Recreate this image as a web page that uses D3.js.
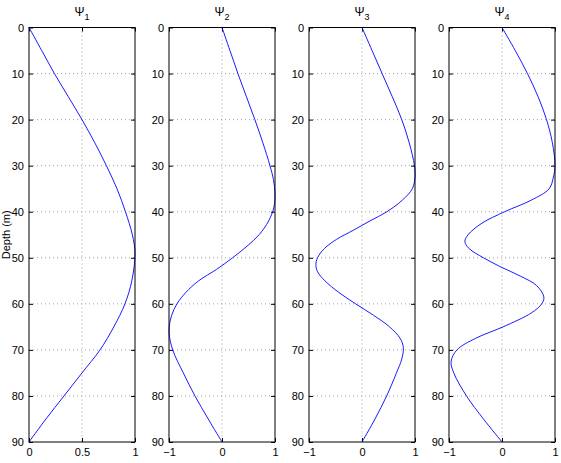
<!DOCTYPE html>
<html lang="en">
<head>
    <meta charset="UTF-8">
    <title>Modes</title>
    <style>
        body { margin: 0; background: #fff; }
        text { font-family: "Liberation Sans", Arial, sans-serif; }
    </style>
</head>
<body>
    <div id="chart"></div>

    <script src="https://cdn.jsdelivr.net/npm/d3@7"></script>

    <script>
        // values
        const titles = ["1", "2", "3", "4"];
        const depthTicks = [0, 10, 20, 30, 40, 50, 60, 70, 80, 90];
        const xTicks1 = [0, 0.5, 1];
        const xTicksOther = [-1, 0, 1];

        const depth1 = [0, 5, 10, 15, 20, 25, 30, 35, 40, 45, 49, 55, 60, 65, 70, 75, 80, 85, 90];
        const psi1 = [0, 0.12, 0.24, 0.37, 0.50, 0.62, 0.73, 0.83, 0.91, 0.975, 1.0, 0.97, 0.905, 0.80, 0.67, 0.50, 0.33, 0.16, 0];

        const depth2 = [0, 5, 10, 15, 20, 25, 30, 33, 36, 39, 42, 45, 47.5, 50, 52.5, 55, 57.5, 60, 62.5, 66, 70, 75, 80, 85, 90];
        const psi2 = [0, 0.15, 0.30, 0.46, 0.62, 0.77, 0.905, 0.97, 1.0, 0.98, 0.88, 0.70, 0.47, 0.20, -0.10, -0.44, -0.68, -0.85, -0.95, -1.0, -0.93, -0.73, -0.51, -0.26, 0];

        const depth3 = [0, 5, 10, 15, 20, 25, 30, 32.5, 35, 37.5, 40, 42, 44, 46, 48, 50, 51.5, 53, 55, 57.5, 60, 62.5, 65, 67.5, 69.5, 72, 75, 80, 85, 90];
        const psi3 = [0, 0.19, 0.38, 0.57, 0.75, 0.89, 0.99, 1.0, 0.95, 0.76, 0.47, 0.15, -0.16, -0.48, -0.71, -0.84, -0.87, -0.84, -0.70, -0.44, -0.12, 0.22, 0.52, 0.72, 0.78, 0.75, 0.65, 0.465, 0.245, 0];

        const depth4 = [0, 5, 10, 15, 20, 25, 30, 32.5, 35, 37.5, 40, 42.5, 45, 46.5, 48, 50, 52, 54, 56, 58.5, 60, 62, 65, 67.5, 70, 72.5, 75, 80, 85, 90];
        const psi4 = [0, 0.25, 0.48, 0.68, 0.84, 0.95, 1.0, 0.97, 0.89, 0.55, 0.05, -0.38, -0.64, -0.70, -0.62, -0.35, -0.02, 0.35, 0.65, 0.79, 0.75, 0.55, 0.02, -0.50, -0.85, -0.96, -0.91, -0.67, -0.35, 0];

        const series = [
            { depth: depth1, values: psi1, domain: [0, 1], ticks: xTicks1 },
            { depth: depth2, values: psi2, domain: [-1, 1], ticks: xTicksOther },
            { depth: depth3, values: psi3, domain: [-1, 1], ticks: xTicksOther },
            { depth: depth4, values: psi4, domain: [-1, 1], ticks: xTicksOther }
        ];

        const width = 561, height = 463;
        const plotTop = 27.5, plotBottom = 442;
        const panelW = 106, step = 140, firstLeft = 29;

        const svg = d3.select("#chart")
            .append("svg")
            .attr("width", width)
            .attr("height", height);

        const y = d3.scaleLinear().domain([0, 90]).range([plotTop, plotBottom]);

        series.forEach(function(s, i) {
            const left = firstLeft + i * step;
            const x = d3.scaleLinear().domain(s.domain).range([left, left + panelW]);
            const g = svg.append("g");

            // grid
            g.selectAll(".hgrid")
                .data(depthTicks.slice(1, -1))
                .enter().append("line")
                .attr("x1", left).attr("x2", left + panelW)
                .attr("y1", d => y(d)).attr("y2", d => y(d))
                .attr("stroke", "#8c8c8c").attr("stroke-width", 0.8)
                .attr("stroke-dasharray", "1,3");
            g.selectAll(".vgrid")
                .data(s.ticks.slice(1, -1))
                .enter().append("line")
                .attr("x1", d => x(d)).attr("x2", d => x(d))
                .attr("y1", plotTop).attr("y2", plotBottom)
                .attr("stroke", "#8c8c8c").attr("stroke-width", 0.8)
                .attr("stroke-dasharray", "1,3");

            // axes
            const yAxis = g.append("g")
                .attr("transform", `translate(${left},0)`)
                .call(d3.axisLeft(y).tickValues(depthTicks).tickSizeInner(-4).tickSizeOuter(0).tickPadding(5));
            const yAxisR = g.append("g")
                .attr("transform", `translate(${left + panelW},0)`)
                .call(d3.axisRight(y).tickValues(depthTicks).tickSizeInner(-4).tickSizeOuter(0).tickFormat(""));
            const xAxis = g.append("g")
                .attr("transform", `translate(0,${plotBottom})`)
                .call(d3.axisBottom(x).tickValues(s.ticks).tickSizeInner(-4).tickSizeOuter(0).tickPadding(6).tickFormat(d3.format("")));
            const xAxisT = g.append("g")
                .attr("transform", `translate(0,${plotTop})`)
                .call(d3.axisTop(x).tickValues(s.ticks).tickSizeInner(-4).tickSizeOuter(0).tickFormat(""));

            [yAxis, yAxisR, xAxis, xAxisT].forEach(function(a) {
                a.select(".domain").remove();
                a.selectAll("line").attr("stroke", "#000");
                a.selectAll("text")
                    .attr("fill", "#000")
                    .style("font-size", "11px")
                    .style("font-family", "'Liberation Sans', Arial, sans-serif");
            });
            xAxis.selectAll("text").text(d => d < 0 ? "\u2212" + Math.abs(d) : d);

            // curve
            const line = d3.line()
                .x((d, j) => x(s.values[j]))
                .y(d => y(d))
                .curve(d3.curveCatmullRom.alpha(0.5));
            g.append("path")
                .datum(s.depth)
                .attr("d", line)
                .attr("fill", "none")
                .attr("stroke", "#0000ff")
                .attr("stroke-width", 0.9);

            // frame
            g.append("rect")
                .attr("x", left).attr("y", plotTop)
                .attr("width", panelW).attr("height", plotBottom - plotTop)
                .attr("fill", "none")
                .attr("stroke", "#000")
                .attr("stroke-width", 1);

            // title
            const t = g.append("text")
                .attr("x", left + panelW / 2)
                .attr("y", 16)
                .attr("text-anchor", "middle")
                .style("font-size", "12px");
            t.append("tspan").text("\u03A8");
            t.append("tspan").attr("dy", 4).style("font-size", "9px").text(titles[i]);
        });

        svg.append("text")
            .attr("transform", `translate(10,${(plotTop + plotBottom) / 2}) rotate(-90)`)
            .attr("text-anchor", "middle")
            .style("font-size", "11px")
            .text("Depth (m)");
    </script>
</body>
</html>
